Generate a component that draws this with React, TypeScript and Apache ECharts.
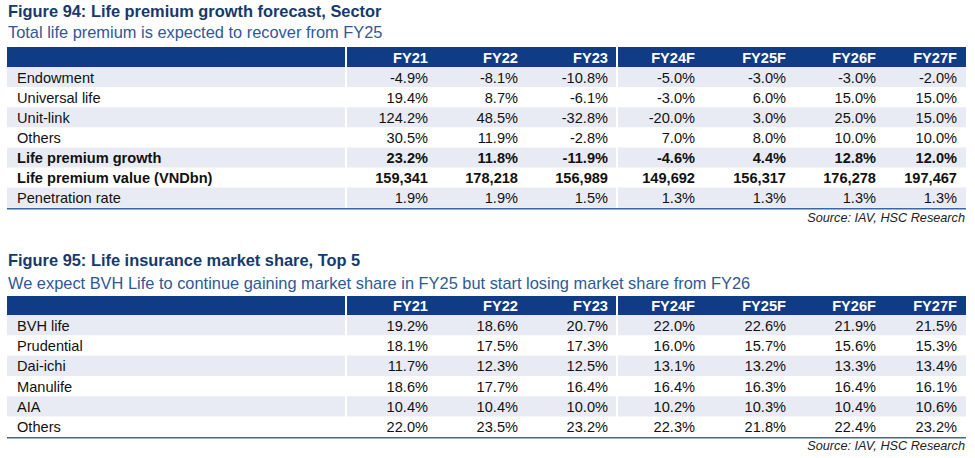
import React, { useEffect, useRef } from "react";
import * as echarts from "echarts";

// ---- Data ----
const years = ["FY21", "FY22", "FY23", "FY24F", "FY25F", "FY26F", "FY27F"];

const title1 = "Figure 94: Life premium growth forecast, Sector";
const subtitle1 = "Total life premium is expected to recover from FY25";
const rows1 = ["Endowment", "Universal life", "Unit-link", "Others", "Life premium growth", "Life premium value (VNDbn)", "Penetration rate"];
const bold1 = [false, false, false, false, true, true, false];
const endowment = [-4.9, -8.1, -10.8, -5.0, -3.0, -3.0, -2.0];
const universalLife = [19.4, 8.7, -6.1, -3.0, 6.0, 15.0, 15.0];
const unitLink = [124.2, 48.5, -32.8, -20.0, 3.0, 25.0, 15.0];
const othersGrowth = [30.5, 11.9, -2.8, 7.0, 8.0, 10.0, 10.0];
const premiumGrowth = [23.2, 11.8, -11.9, -4.6, 4.4, 12.8, 12.0];
const premiumValue = [159341, 178218, 156989, 149692, 156317, 176278, 197467];
const penetration = [1.9, 1.9, 1.5, 1.3, 1.3, 1.3, 1.3];

const title2 = "Figure 95: Life insurance market share, Top 5";
const subtitle2 = "We expect BVH Life to continue gaining market share in FY25 but start losing market share from FY26";
const rows2 = ["BVH life", "Prudential", "Dai-ichi", "Manulife", "AIA", "Others"];
const bvh = [19.2, 18.6, 20.7, 22.0, 22.6, 21.9, 21.5];
const prudential = [18.1, 17.5, 17.3, 16.0, 15.7, 15.6, 15.3];
const daiichi = [11.7, 12.3, 12.5, 13.1, 13.2, 13.3, 13.4];
const manulife = [18.6, 17.7, 16.4, 16.4, 16.3, 16.4, 16.1];
const aia = [10.4, 10.4, 10.0, 10.2, 10.3, 10.4, 10.6];
const othersShare = [22.0, 23.5, 23.2, 22.3, 21.8, 22.4, 23.2];

const source = "Source: IAV, HSC Research";

// ---- Styling ----
const FONT = '"Liberation Sans", Arial, sans-serif';
const NAVY = "#0F3C84";
const TITLE = "#18396B";
const SUB = "#2E5996";
const SHADE = "#E9EBF4";
const LINE = "#3A66A8";
const TEXT = "#111111";
const BODY_SIZE = 14.6;

const pct = (v: number) => v.toFixed(1) + "%";
const num = (v: number) => v.toLocaleString("en-US");

const tableLeft = 7;
const tableRight = 966;
const colRights = [437, 527, 617, 704, 795, 885, 966];
const separators = [346, 617];

function txt(text: string, x: number, y: number, opts: any = {}) {
  const align = opts.align || "left";
  return {
    type: "text",
    silent: true,
    z: 10,
    style: {
      text,
      x,
      y,
      fill: opts.fill || TEXT,
      fontFamily: FONT,
      fontSize: opts.size || BODY_SIZE,
      fontWeight: opts.bold ? "bold" : "normal",
      fontStyle: opts.italic ? "italic" : "normal",
      align,
      verticalAlign: "middle",
      textAlign: align,
      textVerticalAlign: "middle",
    },
  };
}

function buildTable(
  els: any[],
  cfg: {
    title: string;
    subtitle: string;
    titleY: number;
    subY: number;
    headTop: number;
    headH: number;
    rowH: number;
    rows: string[];
    bold: boolean[];
    cells: string[][];
    sourceY: number;
  }
) {
  els.push(txt(cfg.title, 8, cfg.titleY, { bold: true, size: 16.4, fill: TITLE }));
  els.push(txt(cfg.subtitle, 8, cfg.subY, { size: 16.4, fill: SUB }));
  els.push({
    type: "rect",
    silent: true,
    shape: { x: tableLeft, y: cfg.headTop, width: tableRight - tableLeft, height: cfg.headH },
    style: { fill: NAVY },
  });
  years.forEach((y, i) => {
    els.push(txt(y, colRights[i] - 9, cfg.headTop + cfg.headH / 2 + 0.5, { bold: true, fill: "#ffffff", align: "right" }));
  });
  const bodyTop = cfg.headTop + cfg.headH;
  cfg.rows.forEach((r, ri) => {
    const top = bodyTop + ri * cfg.rowH;
    if (ri % 2 === 0) {
      els.push({
        type: "rect",
        silent: true,
        shape: { x: tableLeft, y: top, width: tableRight - tableLeft, height: cfg.rowH },
        style: { fill: SHADE },
      });
    }
    const cy = top + cfg.rowH / 2 + 0.5;
    els.push(txt(r, 17, cy, { bold: cfg.bold[ri] }));
    cfg.cells[ri].forEach((c, ci) => {
      els.push(txt(c, colRights[ci] - 9, cy, { bold: cfg.bold[ri], align: "right" }));
    });
  });
  const bottom = bodyTop + cfg.rows.length * cfg.rowH;
  separators.forEach((sx) => {
    els.push({
      type: "rect",
      silent: true,
      z: 5,
      shape: { x: sx - 1, y: cfg.headTop, width: 2, height: bottom - cfg.headTop },
      style: { fill: "#ffffff" },
    });
  });
  els.push({
    type: "line",
    silent: true,
    z: 6,
    shape: { x1: tableLeft, y1: bottom + 1, x2: tableRight, y2: bottom + 1 },
    style: { stroke: LINE, lineWidth: 1.5 },
  });
  els.push(txt(source, 965, cfg.sourceY, { italic: true, size: 12.7, align: "right", fill: "#222222" }));
}

export default function App() {
  const ref = useRef<HTMLDivElement>(null);
  useEffect(() => {
    if (!ref.current) return;
    const chart = echarts.init(ref.current, undefined, { renderer: "svg" });
    const els: any[] = [];
    const cells1 = [
      endowment.map(pct),
      universalLife.map(pct),
      unitLink.map(pct),
      othersGrowth.map(pct),
      premiumGrowth.map(pct),
      premiumValue.map(num),
      penetration.map(pct),
    ];
    buildTable(els, {
      title: title1,
      subtitle: subtitle1,
      titleY: 11,
      subY: 32,
      headTop: 47,
      headH: 20,
      rowH: 20.1,
      rows: rows1,
      bold: bold1,
      cells: cells1,
      sourceY: 218,
    });
    const cells2 = [bvh, prudential, daiichi, manulife, aia, othersShare].map((a) => a.map(pct));
    buildTable(els, {
      title: title2,
      subtitle: subtitle2,
      titleY: 260,
      subY: 283,
      headTop: 296,
      headH: 19,
      rowH: 20.3,
      rows: rows2,
      bold: rows2.map(() => false),
      cells: cells2,
      sourceY: 446,
    });
    chart.setOption({
      animation: false,
      backgroundColor: "#ffffff",
      graphic: { elements: els },
    });
    return () => chart.dispose();
  }, []);
  return (
    <div
      ref={ref}
      style={{ position: "fixed", left: 0, top: 0, width: 975, height: 458 }}
    />
  );
}
